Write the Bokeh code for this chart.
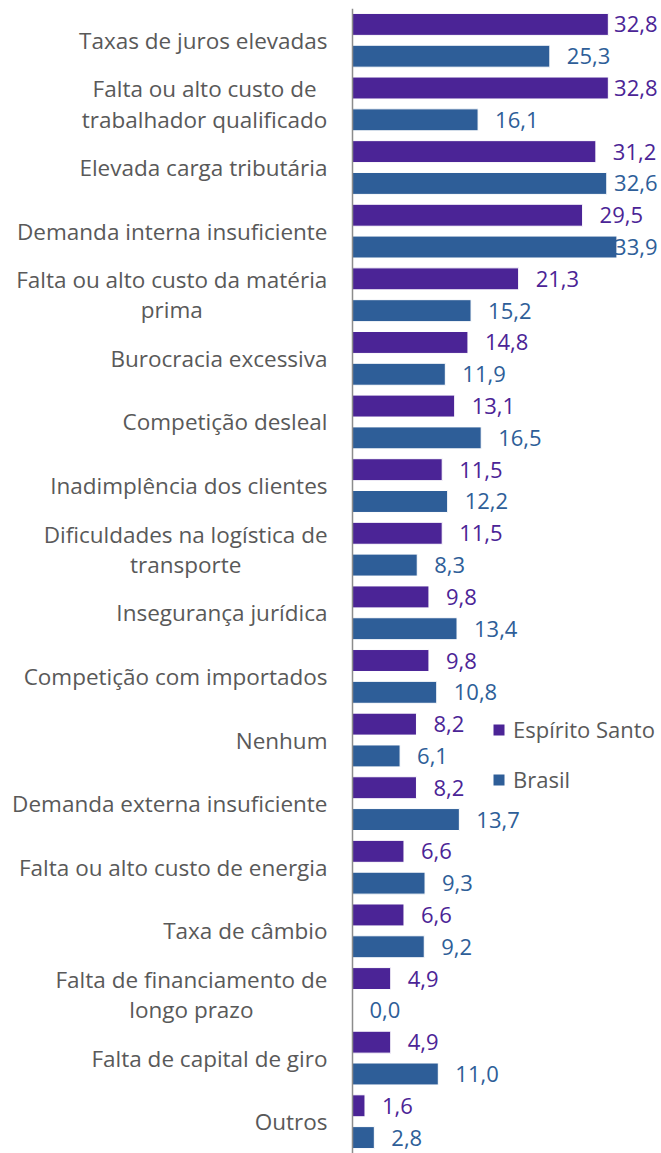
from bokeh.plotting import figure
from bokeh.models import ColumnDataSource, Range1d, Legend, LegendItem, Span
from bokeh.embed import file_html
from bokeh.resources import INLINE
from bokeh.core.properties import value

categories = [
    "Taxas de juros elevadas",
    "Falta ou alto custo de\ntrabalhador qualificado",
    "Elevada carga tributária",
    "Demanda interna insuficiente",
    "Falta ou alto custo da matéria\nprima",
    "Burocracia excessiva",
    "Competição desleal",
    "Inadimplência dos clientes",
    "Dificuldades na logística de\ntransporte",
    "Insegurança jurídica",
    "Competição com importados",
    "Nenhum",
    "Demanda externa insuficiente",
    "Falta ou alto custo de energia",
    "Taxa de câmbio",
    "Falta de financiamento de\nlongo prazo",
    "Falta de capital de giro",
    "Outros",
]
espirito_santo = [32.8, 32.8, 31.2, 29.5, 21.3, 14.8, 13.1, 11.5, 11.5, 9.8, 9.8, 8.2, 8.2, 6.6, 6.6, 4.9, 4.9, 1.6]
brasil = [25.3, 16.1, 32.6, 33.9, 15.2, 11.9, 16.5, 12.2, 8.3, 13.4, 10.8, 6.1, 13.7, 9.3, 9.2, 0.0, 11.0, 2.8]
series_names = ["Espírito Santo", "Brasil"]

PURPLE = "#4B2496"
BLUE = "#2E5E98"
GREY = "#595959"
FONT = "Open Sans"
LABEL_PX = 22.5
GAP = 25

N = len(categories)
W = 661
AXIS_X = 352          # pixel position of the value axis
TOP = 8
FRAME_H = 1145
PX_PER_UNIT = 7.8
X_START = -AXIS_X / PX_PER_UNIT
X_END = (W - AXIS_X) / PX_PER_UNIT
PLOT_W = W - AXIS_X

# approximate Open Sans advance widths (units per 2048 em) for centring wrapped labels
_ADV = dict(zip("abcdefghijklmnopqrstuvwxyz",
                [1139, 1255, 975, 1255, 1149, 694, 1122, 1257, 518, 518, 1075, 518, 1905,
                 1257, 1237, 1255, 1255, 836, 977, 723, 1257, 1026, 1593, 1073, 1028, 977]))
_ADV.update({" ": 532, "á": 1139, "é": 1149, "í": 518, "ç": 975, "ã": 1139, "â": 1139,
             "F": 1087, "D": 1450})

def text_w(s):
    return sum(_ADV.get(ch, 1150) for ch in s) / 2048 * LABEL_PX

p = figure(width=W, height=TOP + FRAME_H, frame_width=W, frame_height=FRAME_H,
           min_border_left=0, min_border_right=0, min_border_top=TOP, min_border_bottom=0,
           x_range=Range1d(X_START, X_END), y_range=Range1d(-0.5, N - 0.5),
           output_backend="svg", toolbar_location=None)

centers = [N - 1 - i for i in range(N)]

def make_source(vals, shift):
    ys = [c + shift for c in centers]
    lx, align, off = [], [], []
    for v in vals:
        if v * PX_PER_UNIT + 17 + 44 > PLOT_W - 3:
            lx.append(X_END); align.append("right"); off.append(-4)
        else:
            lx.append(v); align.append("left"); off.append(17)
    txt = [f"{v:.1f}".replace(".", ",") for v in vals]
    return ColumnDataSource(dict(y=ys, v=vals, lx=lx, align=align, off=off, txt=txt))

src_es = make_source(espirito_santo, 0.25)
src_br = make_source(brasil, -0.25)

BH = 0.345
r_es = p.hbar(y="y", right="v", left=0, height=BH, source=src_es,
              fill_color=PURPLE, line_color="white", line_width=1)
r_br = p.hbar(y="y", right="v", left=0, height=BH, source=src_br,
              fill_color=BLUE, line_color="white", line_width=1)

for src, col in ((src_es, PURPLE), (src_br, BLUE)):
    p.text(x="lx", y="y", text="txt", source=src, text_align="align", x_offset="off",
           text_baseline="middle", text_color=col, text_font=value(FONT),
           text_font_size="22px")

# category labels: single lines right-aligned, wrapped ones centred as blocks
cat_align, cat_off = [], []
for lab in categories:
    if "\n" in lab:
        w = max(text_w(line) for line in lab.split("\n"))
        cat_align.append("center"); cat_off.append(-(GAP + w / 2))
    else:
        cat_align.append("right"); cat_off.append(-GAP)
cat_src = ColumnDataSource(dict(x=[0] * N, y=centers, t=categories, a=cat_align, off=cat_off))
p.text(x="x", y="y", text="t", source=cat_src, text_align="a", x_offset="off",
       text_baseline="middle", text_color=GREY, text_font=value(FONT),
       text_font_size=f"{LABEL_PX}px", text_line_height=0.98)

# value axis line
p.add_layout(Span(location=0, dimension="height", line_color="#8C8C8C", line_width=1.5))

p.xaxis.visible = False
p.yaxis.visible = False
p.xgrid.visible = False
p.ygrid.visible = False
p.outline_line_color = None

legend = Legend(items=[LegendItem(label=series_names[0], renderers=[r_es]),
                       LegendItem(label=series_names[1], renderers=[r_br])],
                location=(AXIS_X + 139, 359), orientation="vertical",
                background_fill_alpha=0, border_line_color=None,
                label_text_font=FONT, label_text_font_size="22px", label_text_color=GREY,
                glyph_width=15, glyph_height=15, label_standoff=7,
                spacing=20, padding=0, margin=0)
p.add_layout(legend, "center")

open("out.html", "w").write(file_html(p, INLINE))
